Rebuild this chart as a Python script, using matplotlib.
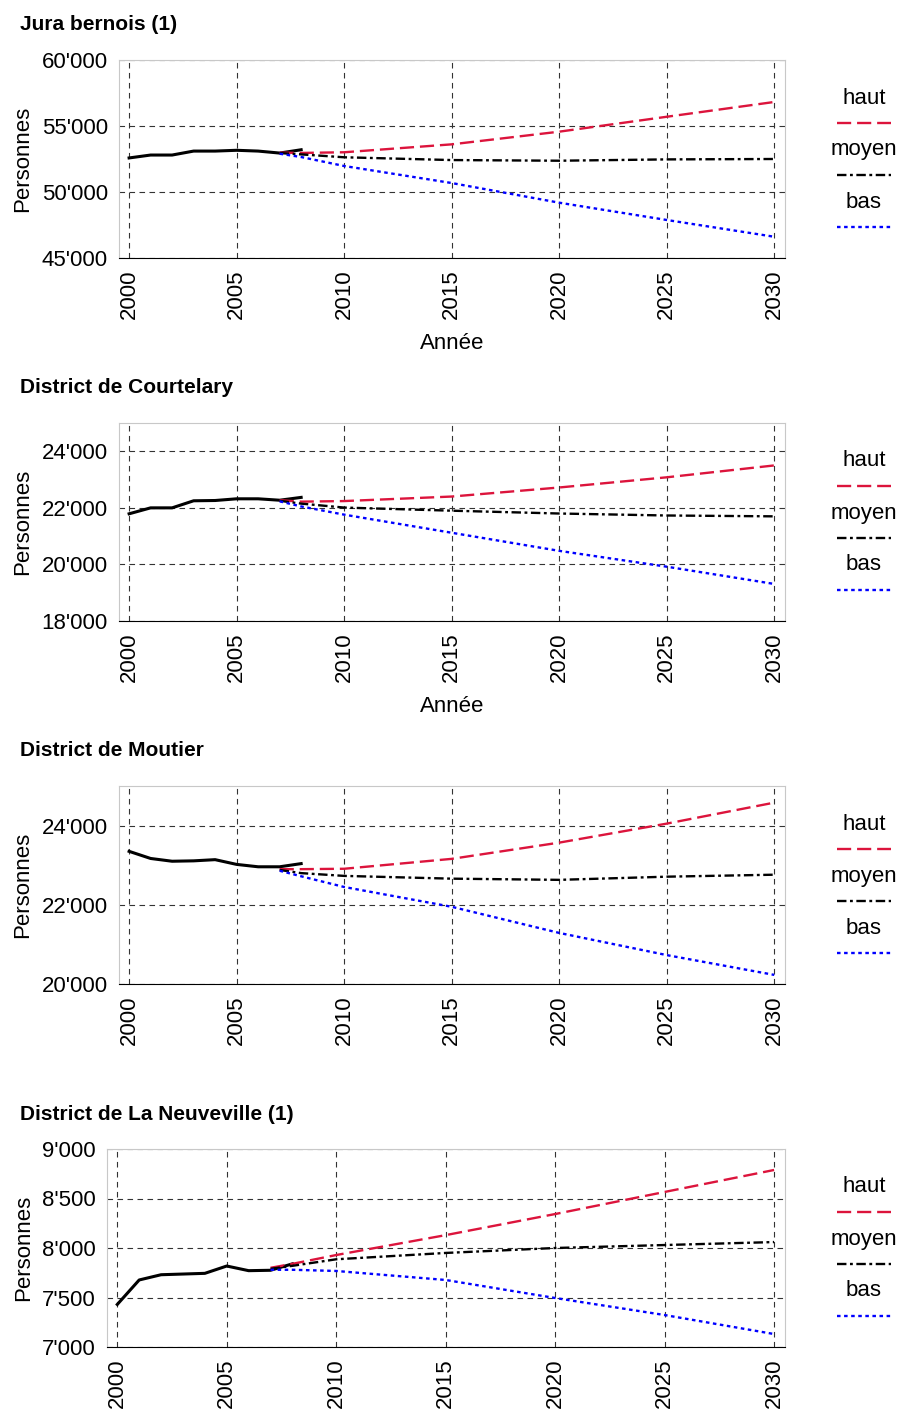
import matplotlib
matplotlib.use("Agg")
import matplotlib.pyplot as plt
from matplotlib.lines import Line2D
from matplotlib.ticker import FuncFormatter

plt.rcParams['font.family'] = ['Liberation Sans', 'DejaVu Sans']

# Historical years and projection years
hist_years = [2000, 2001, 2002, 2003, 2004, 2005, 2006, 2007, 2008]
proj_years = [2007, 2008, 2010, 2015, 2020, 2025, 2030]

# Jura bernois (1)
jb_hist = [52580, 52800, 52800, 53100, 53100, 53160, 53100, 52950, 53200]
jb_haut = [52980, 52960, 53010, 53610, 54570, 55700, 56820]
jb_moyen = [52950, 52850, 52630, 52420, 52370, 52470, 52500]
jb_bas = [52900, 52650, 51970, 50680, 49190, 47880, 46610]

# District de Courtelary
co_hist = [21790, 22000, 22000, 22250, 22260, 22320, 22320, 22270, 22370]
co_haut = [22270, 22220, 22240, 22400, 22720, 23080, 23500]
co_moyen = [22250, 22150, 22010, 21900, 21800, 21730, 21700]
co_bas = [22230, 22050, 21760, 21120, 20480, 19920, 19310]

# District de Moutier
mo_hist = [23350, 23170, 23100, 23110, 23140, 23020, 22960, 22960, 23040]
mo_haut = [22900, 22900, 22910, 23160, 23570, 24050, 24580]
mo_moyen = [22880, 22800, 22730, 22660, 22630, 22710, 22760]
mo_bas = [22860, 22720, 22450, 21950, 21290, 20730, 20230]

# District de La Neuveville (1)
ln_hist = [7430, 7677, 7730, 7737, 7744, 7818, 7771, 7775, 7840]
ln_haut = [7800, 7840, 7929, 8130, 8343, 8566, 8788]
ln_moyen = [7790, 7820, 7886, 7950, 8000, 8030, 8060]
ln_bas = [7780, 7780, 7768, 7677, 7495, 7323, 7131]

titles = ["Jura bernois (1)", "District de Courtelary", "District de Moutier",
          "District de La Neuveville (1)"]
hists = [jb_hist, co_hist, mo_hist, ln_hist]
hauts = [jb_haut, co_haut, mo_haut, ln_haut]
moyens = [jb_moyen, co_moyen, mo_moyen, ln_moyen]
bass = [jb_bas, co_bas, mo_bas, ln_bas]
ylims = [(45000, 60000), (18000, 25000), (20000, 25000), (7000, 9000)]
yticks = [[45000, 50000, 55000, 60000], [18000, 20000, 22000, 24000],
          [20000, 22000, 24000], [7000, 7500, 8000, 8500, 9000]]
show_xlabel = [True, True, False, False]

W, H = 902, 1409
# axes boxes in pixels: left, top, right, bottom
boxes = [(119, 60, 785, 258), (119, 423, 785, 621), (119, 786, 785, 984), (107, 1149, 785, 1347)]

RED = '#DC143C'
red_style = dict(color=RED, lw=1.7, dashes=(6, 2.5))
moy_style = dict(color='black', lw=1.7, dashes=(4, 1.5, 1.2, 1.5))
bas_style = dict(color='blue', lw=1.7, dashes=(1.5, 1.5))
FS = 16


def fmt(v, pos):
    return f"{int(v):,}".replace(",", "'")


fig = plt.figure(figsize=(W / 100, H / 100), dpi=100)

for i in range(4):
    l, t, r, b = boxes[i]
    ax = fig.add_axes([l / W, 1 - b / H, (r - l) / W, (b - t) / H])
    ax.plot(hist_years, hists[i], color='black', lw=2.2)
    ax.plot(proj_years, hauts[i], **red_style)
    ax.plot(proj_years, moyens[i], **moy_style)
    ax.plot(proj_years, bass[i], **bas_style)

    ax.set_xlim(1999.53, 2030.5)
    ax.set_ylim(*ylims[i])
    ax.set_xticks([2000, 2005, 2010, 2015, 2020, 2025, 2030])
    ax.set_yticks(yticks[i])
    ax.yaxis.set_major_formatter(FuncFormatter(fmt))
    ax.tick_params(axis='x', labelrotation=90, labelsize=FS, length=0, pad=8)
    ax.tick_params(axis='y', labelsize=FS, length=0, pad=8)
    ax.grid(True, color='#333333', lw=0.8, dashes=(5, 4))
    for s in ['left', 'top', 'right']:
        ax.spines[s].set_color('#c8c8c8')
    ax.spines['bottom'].set_color('black')
    ax.set_ylabel("Personnes", fontsize=FS, labelpad=6)
    if show_xlabel[i]:
        ax.set_xlabel("Année", fontsize=FS, labelpad=10)

    fig.text(20 / W, 1 - (t - 35) / H, titles[i], fontsize=15, fontweight='bold',
             ha='left', va='center')

    # legend on the right
    for j, (lab, st) in enumerate([("haut", red_style), ("moyen", moy_style), ("bas", bas_style)]):
        ty = t + 38 + 52 * j
        ly = t + 63 + 52 * j
        fig.text(864 / W, 1 - ty / H, lab, fontsize=FS, ha='center', va='center')
        fig.add_artist(Line2D([837 / W, 891 / W], [1 - ly / H, 1 - ly / H],
                              transform=fig.transFigure, **st))

fig.savefig("out.png", dpi=100)
